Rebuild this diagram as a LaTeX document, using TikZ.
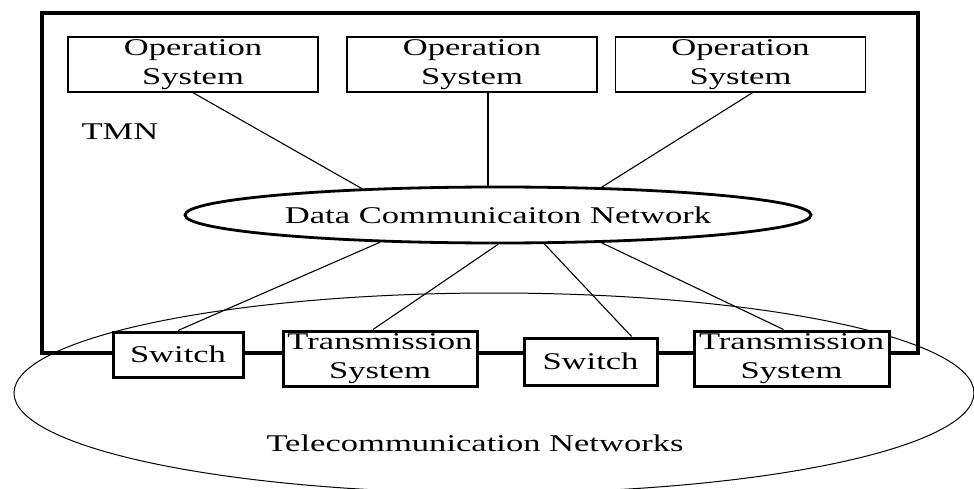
\documentclass[tikz,border=0pt]{standalone}
\usepackage{fontspec}
\setmainfont[FakeStretch=1.44]{Liberation Serif}
\usetikzlibrary{shapes.geometric}
\begin{document}
\begin{tikzpicture}[x=1pt,y=-1pt,
  txt/.style={font=\fontsize{24}{29}\selectfont, align=center},
  osbox/.style={txt, draw, fill=white, line width=1.4pt,
    minimum width=250pt, minimum height=55pt, inner sep=0pt},
  nebox/.style={txt, draw, fill=white, line width=3pt, inner sep=0pt},
  link/.style={line width=1.1pt}]
\fill[white] (0,0) rectangle (974,489);
\useasboundingbox (0,0) rectangle (974,489);

% telecommunication network cloud
\node[ellipse, draw, line width=1pt, minimum width=960pt, minimum height=200pt,
  inner sep=0pt] (tn) at (494,393) {};

% TMN boundary
\node[draw, line width=3.2pt, minimum width=876pt, minimum height=340pt,
  inner sep=0pt] (tmn) at (480,183) {};
\node[txt] (tmnlabel) at (120,132) {TMN};

% operation systems
\node[osbox] (os1) at (193,64.5) {Operation\\System};
\node[osbox] (os2) at (472,64.5) {Operation\\System};
\node[osbox] (os3) at (740.5,64.5) {Operation\\System};

% data communication network
\node[ellipse, draw, fill=white, line width=2.8pt, minimum width=626pt,
  minimum height=56pt, inner sep=0pt, txt] (dcn) at (498,215)
  {Data Communicaiton Network};

% network elements
\node[nebox, minimum width=130pt, minimum height=45pt] (sw1) at (178,354.5) {Switch};
\node[nebox, minimum width=194pt, minimum height=55pt] (ts1) at (380,358.5) {Transmission\\System};
\node[nebox, minimum width=133pt, minimum height=47pt] (sw2) at (590.5,361.5) {Switch};
\node[nebox, minimum width=195pt, minimum height=55pt] (ts2) at (791.5,358.5) {Transmission\\System};

\node[txt] (tnlabel) at (475,443) {Telecommunication Networks};

% links
\draw[link] (os1.south) -- (dcn.169.4);
\draw[link] ([xshift=16pt]os2.south) -- ([xshift=16pt]os2.south |- dcn.north);
\draw[link] ([xshift=12pt]os3.south) -- (dcn.15);
\draw[link] (dcn.193.7) -- (sw1.north);
\draw[link] (dcn.270) -- ([xshift=-7pt]ts1.north);
\draw[link] (dcn.328.4) -- ([xshift=41pt]sw2.north);
\draw[link] (dcn.345.9) -- ([xshift=-8pt]ts2.north);
\end{tikzpicture}
\end{document}
